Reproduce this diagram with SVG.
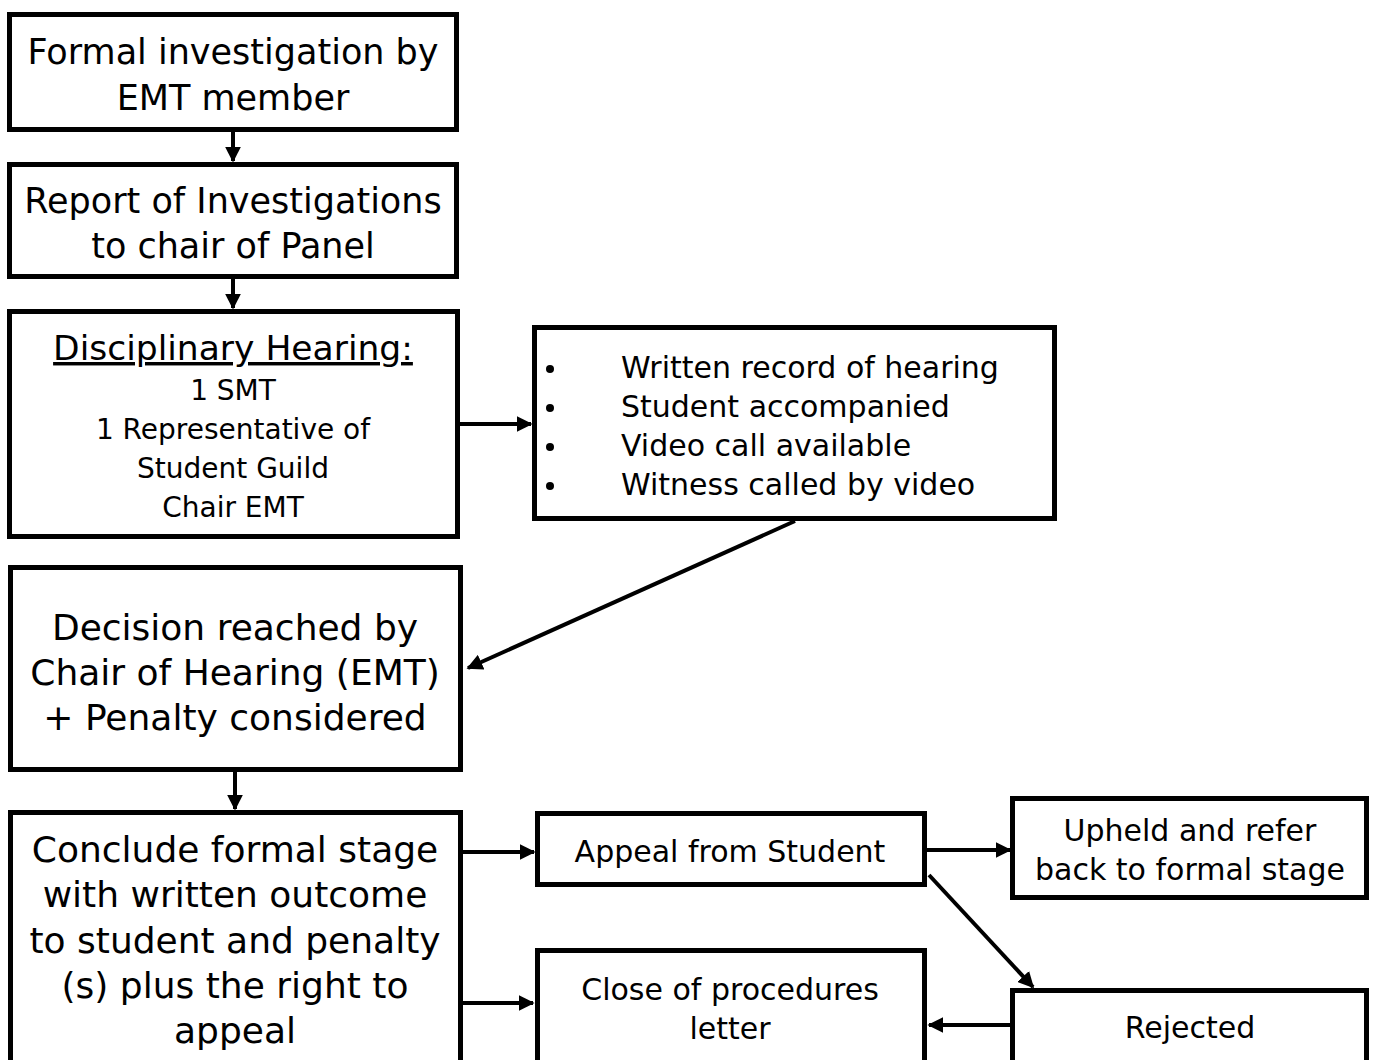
<svg xmlns="http://www.w3.org/2000/svg" width="1379" height="1060" viewBox="0 0 1379 1060">
<defs>
<marker id="ah" markerWidth="4" markerHeight="4" refX="3.6" refY="2" orient="auto" markerUnits="strokeWidth">
<path d="M0,0 L4,2 L0,4 Z" fill="#000"/>
</marker>
<style>
.box{fill:#fff;stroke:#000;stroke-width:5}
.t{font-family:"DejaVu Sans","Liberation Sans",Arial,sans-serif;fill:#000;text-anchor:middle}
.big{font-size:35px}
.big2{font-size:36px}
.mid{font-size:30px}
.sm{font-size:28px}
.c{stroke:#000;stroke-width:4;fill:none;marker-end:url(#ah)}
</style>
</defs>
<rect width="1379" height="1060" fill="#fff"/>
<g id="n1">
<rect class="box" x="9.5" y="14.5" width="447" height="115"/>
<text class="t big" x="233" y="64">Formal investigation by</text>
<text class="t big" x="233" y="110">EMT member</text>
</g>
<g id="n2">
<rect class="box" x="9.5" y="164.5" width="447" height="112"/>
<text class="t big" x="233" y="213">Report of Investigations</text>
<text class="t big" x="233" y="258">to chair of Panel</text>
</g>
<g id="n3">
<rect class="box" x="9.5" y="311.5" width="448" height="225"/>
<text class="t" font-size="34.5" x="233" y="360" text-decoration="underline">Disciplinary Hearing:</text>
<text class="t sm" x="233" y="400">1 SMT</text>
<text class="t sm" x="233" y="439">1 Representative of</text>
<text class="t sm" x="233" y="478">Student Guild</text>
<text class="t sm" x="233" y="517">Chair EMT</text>
</g>
<g id="n4">
<rect class="box" x="534.5" y="327.5" width="520" height="191"/>
<circle cx="550" cy="369" r="4"/>
<circle cx="550" cy="408" r="4"/>
<circle cx="550" cy="447" r="4"/>
<circle cx="550" cy="486" r="4"/>
<text class="t mid" style="text-anchor:start" x="621" y="378">Written record of hearing</text>
<text class="t mid" style="text-anchor:start" x="621" y="417">Student accompanied</text>
<text class="t mid" style="text-anchor:start" x="621" y="456">Video call available</text>
<text class="t mid" style="text-anchor:start" x="621" y="495">Witness called by video</text>
</g>
<g id="n5">
<rect class="box" x="10.5" y="567.5" width="450" height="202"/>
<text class="t big2" x="235" y="640">Decision reached by</text>
<text class="t big2" x="235" y="685">Chair of Hearing (EMT)</text>
<text class="t big2" x="235" y="730">+ Penalty considered</text>
</g>
<g id="n6">
<rect class="box" x="10.5" y="812.5" width="450" height="260"/>
<text class="t big2" x="235" y="862">Conclude formal stage</text>
<text class="t big2" x="235" y="907">with written outcome</text>
<text class="t big2" x="235" y="953">to student and penalty</text>
<text class="t big2" x="235" y="998">(s) plus the right to</text>
<text class="t big2" x="235" y="1043">appeal</text>
</g>
<g id="n7">
<rect class="box" x="537.5" y="813.5" width="387" height="71"/>
<text class="t mid" x="730" y="862">Appeal from Student</text>
</g>
<g id="n8">
<rect class="box" x="1012.5" y="798.5" width="354" height="99"/>
<text class="t mid" x="1190" y="841">Upheld and refer</text>
<text class="t mid" x="1190" y="880">back to formal stage</text>
</g>
<g id="n9">
<rect class="box" x="537.5" y="950.5" width="387" height="120"/>
<text class="t mid" x="730" y="1000">Close of procedures</text>
<text class="t mid" x="730" y="1039">letter</text>
</g>
<g id="n10">
<rect class="box" x="1012.5" y="990.5" width="354" height="80"/>
<text class="t mid" x="1190" y="1038">Rejected</text>
</g>
<g id="connectors">
<line class="c" x1="233" y1="132" x2="233" y2="161"/>
<line class="c" x1="233" y1="279" x2="233" y2="308"/>
<line class="c" x1="460" y1="424" x2="531" y2="424"/>
<line class="c" x1="795" y1="521" x2="468" y2="668"/>
<line class="c" x1="235" y1="772" x2="235" y2="809"/>
<line class="c" x1="463" y1="852" x2="534" y2="852"/>
<line class="c" x1="463" y1="1003" x2="533" y2="1003"/>
<line class="c" x1="927" y1="850" x2="1010" y2="850"/>
<line class="c" x1="929" y1="875" x2="1033" y2="987"/>
<line class="c" x1="1010" y1="1025" x2="929" y2="1025"/>
</g>
</svg>
